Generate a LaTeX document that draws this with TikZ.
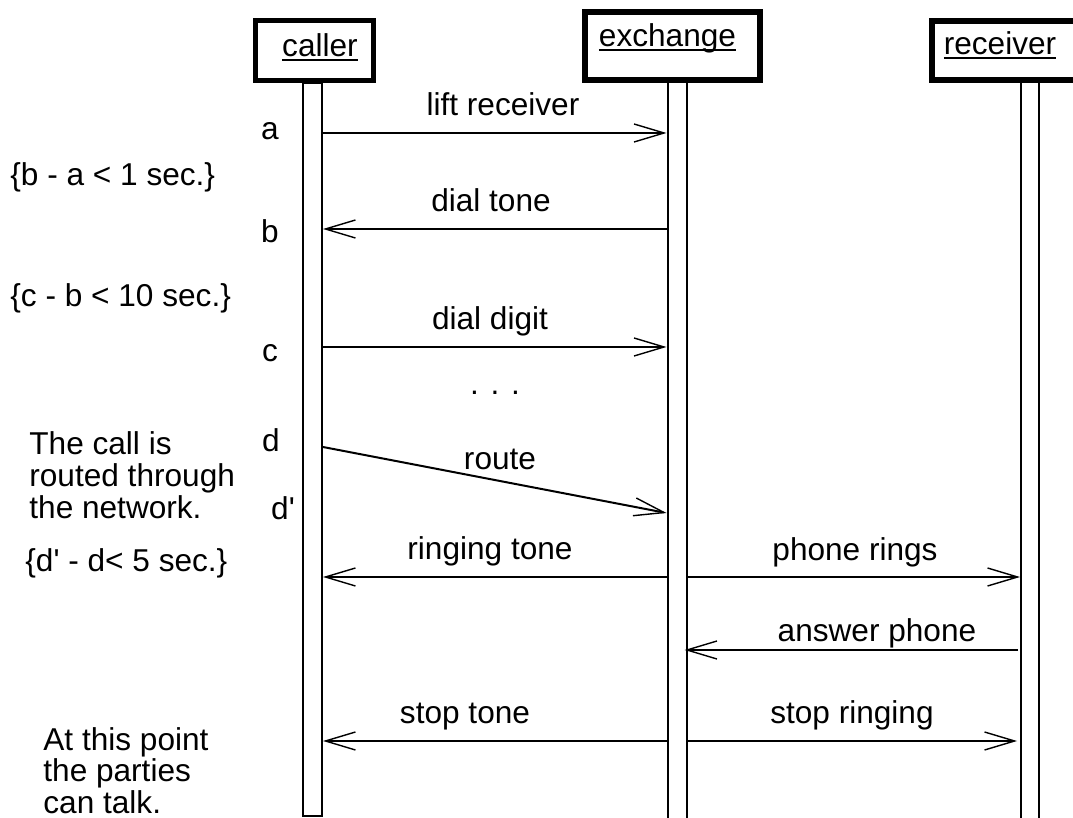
\documentclass[tikz,border=0pt]{standalone}
\usepackage{fontspec}
\setmainfont{Liberation Sans}[Ligatures=TeXOff]
\usetikzlibrary{arrows.meta,positioning}
\newcommand\ulname[1]{\setbox0=\hbox{#1}\rlap{\rule[-2pt]{\wd0}{0.9pt}}\box0}
\tikzset{
  headbox/.style={draw,line width=2.8pt,inner sep=0pt},
  life/.style={draw,line width=1pt,inner sep=0pt,minimum width=9.5pt,minimum height=366.5pt},
  msg/.style={line width=1pt,-{Straight Barb[length=15pt,width=9pt,line width=0.7pt]}},
  lbl/.style={anchor=base,inner sep=0pt},
  note/.style={anchor=base west,inner sep=0pt},
  block/.style={anchor=north west,align=left,inner sep=0pt},
}

\begin{document}
\begin{tikzpicture}[x=0.5pt,y=-0.5pt,font=\fontsize{15.8pt}{16pt}\selectfont]
      \useasboundingbox (0,0) rectangle (1073,818);
      \clip (0,0) rectangle (1073,818);

      \node[life] (clife) at (312.5,449.5) {};
      \node[life,minimum height=380pt] (xlife) at (677,459) {};
      \node[life,minimum width=9pt,minimum height=380pt] (rlife) at (1030,459) {};
      \node[headbox,fill=white,minimum width=59pt,minimum height=30pt] (caller) at (314.5,50.5) {};
      \node[headbox,fill=white,minimum width=87.5pt,minimum height=34pt] (exchange) at (672.5,46) {};
      \node[headbox,fill=white,minimum width=89pt,minimum height=29.5pt] (receiver) at (1021,50.5) {};
      \node[lbl] (callername) at (320,57) {\ulname{caller}};
      \node[lbl] (exchangename) at (667.5,47) {\ulname{exchange}};
      \node[lbl] (receivername) at (1000,55) {\ulname{receiver}};

      \coordinate (ta) at (0,133);
      \coordinate (tb) at (0,229);
      \coordinate (tc) at (0,347);
      \coordinate (td) at (0,447);
      \coordinate (tdd) at (0,513);
      \coordinate (tr) at (0,577);
      \coordinate (tp) at (0,650);
      \coordinate (ts) at (0,741);

      \draw[msg] (clife.east |- ta) -- (xlife.west |- ta);
      \draw[msg] (xlife.west |- tb) -- (clife.east |- tb);
      \draw[msg] (clife.east |- tc) -- (xlife.west |- tc);
      \draw[msg] (clife.east |- td) -- (xlife.west |- tdd);
      \draw[msg] (xlife.west |- tr) -- (clife.east |- tr);
      \draw[msg] (xlife.east |- tr) -- (rlife.west |- tr);
      \draw[msg] ([xshift=-1pt]rlife.west |- tp) -- ([xshift=-1.5pt]xlife.east |- tp);
      \draw[msg] (xlife.west |- ts) -- (clife.east |- ts);
      \draw[msg] (xlife.east |- ts) -- ([xshift=-1.5pt]rlife.west |- ts);

      \node[lbl] (lift) at (503,116) {lift receiver};
      \node[lbl] (dialtone) at (491,212) {dial tone};
      \node[lbl] (dialdigit) at (490,330) {dial digit};
      \node[lbl] (dots) at (495,395) {. . .};
      \node[lbl] (route) at (500,470) {route};
      \node[lbl] (ringing) at (490,560) {ringing tone};
      \node[lbl] (rings) at (855,561) {phone rings};
      \node[lbl] (answer) at (877,642) {answer phone};
      \node[lbl] (stoptone) at (465,724) {stop tone};
      \node[lbl] (stopring) at (852,724) {stop ringing};

      \node[lbl] (la) at (270,140) {a};
      \node[lbl] (lb) at (270,243) {b};
      \node[lbl] (lc) at (270,362) {c};
      \node[lbl] (ld) at (271,452) {d};
      \node[lbl] (ldd) at (283,520) {d'};

      \node[note] (ba) at (10,186) {\{b - a < 1 sec.\}};
      \node[note] (cb) at (10,307) {\{c - b < 10 sec.\}};
      \node[note] (ddd) at (25,572) {\{d' - d< 5 sec.\}};
      \node[block] (routed) at (29,431) {The call is\\routed through\\the network.};
      \node[block,font=\fontsize{15.8pt}{14pt}\selectfont] (talk) at (43,727) {At this point\\the parties\\can talk.};
    \end{tikzpicture}
\end{document}
